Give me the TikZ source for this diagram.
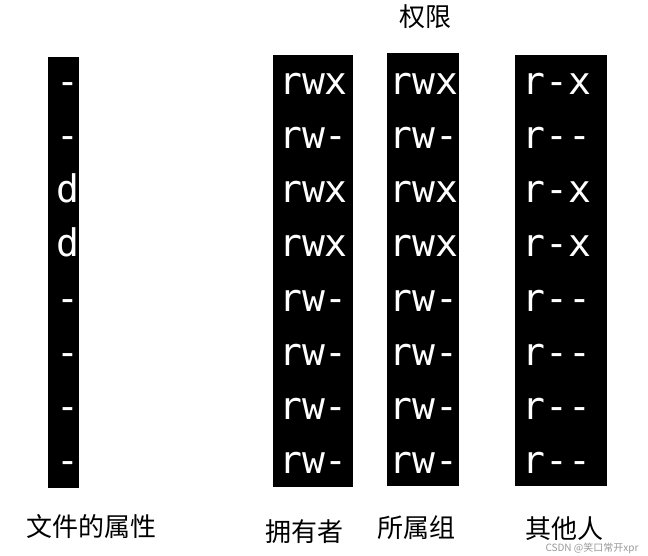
\documentclass[tikz,border=0pt]{standalone}
\usepackage{fontspec}
\newfontfamily\cjk{Noto Sans CJK SC}
\newfontfamily\mono{DejaVu Sans Mono}
\usetikzlibrary{positioning}
\tikzstyle{column} = [rectangle, fill=black, draw=none, inner sep=0pt, anchor=north west]
\tikzstyle{perm} = [text=white, font=\mono\fontsize{38}{38}\selectfont, inner sep=0pt, anchor=base]
\tikzstyle{caption} = [font=\cjk\fontsize{26}{26}\selectfont, inner sep=0pt, text=black]
\tikzstyle{watermark} = [font=\cjk\fontsize{10}{10}\selectfont, inner sep=0pt, text=black!40]

\begin{document}
\begin{tikzpicture}[x=1pt, y=-1pt]
\useasboundingbox (0,0) rectangle (648,556);

% black columns
\node (typecol) [column, minimum width=31pt, minimum height=431pt] at (48,57) {};
\node (ownercol) [column, minimum width=80pt, minimum height=432pt] at (273,55) {};
\node (groupcol) [column, minimum width=72pt, minimum height=433pt] at (387,53) {};
\node (othercol) [column, minimum width=92pt, minimum height=431pt] at (515,55) {};

% permission rows
\foreach \p [count=\i] in {-,-,d,d,-,-,-,-}
  \node (type\i) [perm] at (67.5, 41+54*\i) {\p};
\foreach \p [count=\i] in {rwx,rw-,rwx,rwx,rw-,rw-,rw-,rw-}
  \node (owner\i) [perm] at (313.5, 41+54*\i) {\p};
\foreach \p [count=\i] in {rwx,rw-,rwx,rwx,rw-,rw-,rw-,rw-}
  \node (group\i) [perm] at (424, 41+54*\i) {\p};
\foreach \p [count=\i] in {r-x,r--,r-x,r-x,r--,r--,r--,r--}
  \node (other\i) [perm] at (557, 41+54*\i) {\p};

% captions
\node (perms) [caption] at (425,16.5) {权限};
\node (typelabel) [caption] at (91,527) {文件的属性};
\node (ownerlabel) [caption] at (304.5,532) {拥有者};
\node (grouplabel) [caption] at (416.5,528) {所属组};
\node (otherlabel) [caption] at (564,529) {其他人};
\node (wmark) [watermark] at (592,548) {CSDN @笑口常开xpr};
\end{tikzpicture}
\end{document}
